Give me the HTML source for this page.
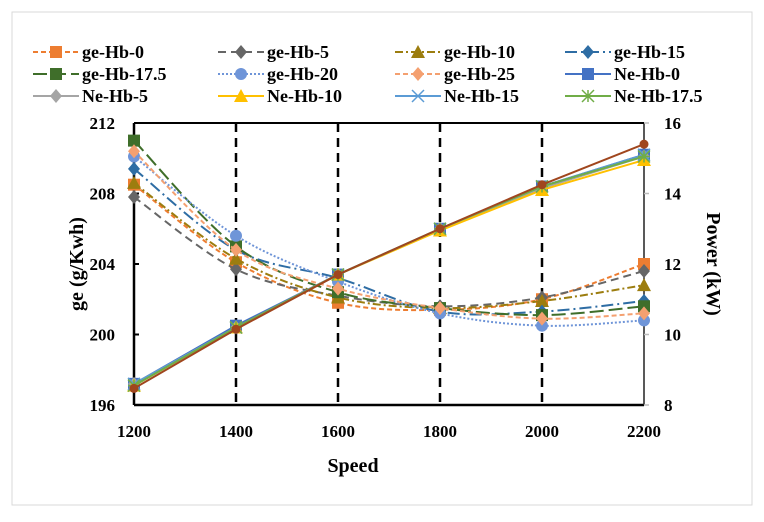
<!DOCTYPE html>
<html><head><meta charset="utf-8"><style>
body{margin:0;background:#fff;width:764px;height:517px;overflow:hidden}
svg text{font-family:"Liberation Serif",serif;font-weight:bold}
</style></head><body>
<svg id="c" width="764" height="517">
<rect x="12" y="12" width="740" height="493" fill="#fff" stroke="#d9d9d9"/>
</svg>
<script>
const speeds=[1200,1400,1600,1800,2000,2200];
const leftTicks=[196,200,204,208,212];
const rightTicks=[8,10,12,14,16];
const geHb0=[208.5,204.1,201.8,201.4,202.0,204.0];
const geHb5=[207.8,203.7,202.2,201.6,202.1,203.6];
const geHb10=[208.6,204.3,202.1,201.5,201.9,202.8];
const geHb15=[209.4,204.8,203.2,201.3,201.3,201.9];
const geHb175=[211.0,205.0,202.4,201.5,201.1,201.6];
const geHb20=[210.1,205.6,203.0,201.2,200.5,200.8];
const geHb25=[210.4,204.8,202.6,201.5,200.9,201.2];
const neHb0=[8.6,10.25,11.7,13.0,14.2,15.1];
const neHb5=[8.6,10.2,11.7,13.0,14.15,15.05];
const neHb10=[8.55,10.2,11.7,12.95,14.1,14.95];
const neHb15=[8.6,10.2,11.7,13.0,14.2,15.1];
const neHb175=[8.55,10.2,11.7,13.0,14.2,15.05];
const neHb25=[8.47,10.15,11.7,13.0,14.25,15.4];

const NS='http://www.w3.org/2000/svg',svg=document.getElementById('c');
const X0=134,X1=644,Y0=123,Y1=405;
const xs=v=>X0+(v-1200)/1000*(X1-X0);
const yl=v=>Y1-(v-196)/16*(Y1-Y0);
const yr=v=>Y1-(v-8)/8*(Y1-Y0);
function el(t,a,p){const e=document.createElementNS(NS,t);for(const k in a)e.setAttribute(k,a[k]);(p||svg).appendChild(e);return e;}
function txt(x,y,s,a){const e=el('text',Object.assign({x:x,y:y},a||{}));e.textContent=s;return e;}
speeds.forEach((s,i)=>{if(i>0&&i<5){const g=el('line',{x1:xs(s),x2:xs(s),y1:Y0,y2:Y1,stroke:'#000','stroke-width':2.5,'stroke-dasharray':'9,6'});

}});
let a=el('line',{x1:X0,x2:X0,y1:Y0,y2:Y1,stroke:'#000','stroke-width':2.5});

a=el('line',{x1:X0,x2:X1,y1:Y1,y2:Y1,stroke:'#000','stroke-width':2.5});

a=el('line',{x1:X1,x2:X1,y1:Y0,y2:Y1,stroke:'#222','stroke-width':1.5});

a=el('line',{x1:X0,x2:X1,y1:Y0,y2:Y0,stroke:'#000','stroke-width':2});

leftTicks.forEach(v=>{el('line',{x1:X0,x2:X0+5,y1:yl(v),y2:yl(v),stroke:'#000','stroke-width':2});
const t=txt(X0-19,yl(v)+6,v,{'text-anchor':'end','font-size':17});
});
rightTicks.forEach(v=>{el('line',{x1:X1,x2:X1+5,y1:yr(v),y2:yr(v),stroke:'#bbb','stroke-width':1.5});
const t=txt(X1+20,yr(v)+6,v,{'font-size':17});
});
speeds.forEach(v=>{const t=txt(xs(v),437,v,{'text-anchor':'middle','font-size':17});
});
let t=txt(353,472,'Speed',{'text-anchor':'middle','font-size':20});

t=txt(0,0,'ge (g/Kwh)',{'text-anchor':'middle','font-size':20,transform:'translate(83,264) rotate(-90)'});

t=txt(0,0,'Power  (kW)',{'text-anchor':'middle','font-size':20,transform:'translate(707,264) rotate(90)'});


function spline(p){let d='M'+p[0][0]+','+p[0][1];for(let i=0;i<p.length-1;i++){const p0=p[i-1]||p[i],p1=p[i],p2=p[i+1],p3=p[i+2]||p2;
d+=' C'+(p1[0]+(p2[0]-p0[0])/6)+','+(p1[1]+(p2[1]-p0[1])/6)+' '+(p2[0]-(p3[0]-p1[0])/6)+','+(p2[1]-(p3[1]-p1[1])/6)+' '+p2[0]+','+p2[1];}return d;}
function marker(g,m,x,y,c,s){s=s||6;
if(m=='sq')return el('rect',{x:x-s,y:y-s,width:2*s,height:2*s,fill:c},g);
if(m=='di')return el('polygon',{points:`${x},${y-s-1} ${x+s},${y} ${x},${y+s+1} ${x-s},${y}`,fill:c},g);
if(m=='tr')return el('polygon',{points:`${x},${y-s-1} ${x+s+1},${y+s} ${x-s-1},${y+s}`,fill:c},g);
if(m=='ci')return el('circle',{cx:x,cy:y,r:s,fill:c},g);
if(m=='x')return el('path',{d:`M${x-s},${y-s}L${x+s},${y+s}M${x-s},${y+s}L${x+s},${y-s}`,stroke:c,'stroke-width':1.5},g);
if(m=='st')return el('path',{d:`M${x-s},${y-s}L${x+s},${y+s}M${x-s},${y+s}L${x+s},${y-s}M${x},${y-s}L${x},${y+s}M${x-s},${y}L${x+s},${y}`,stroke:c,'stroke-width':1.5},g);}
const series=[
{n:'ge-Hb-0',d:geHb0,c:'#ed7d31',m:'sq',da:'5,3',ax:yl,sm:1},
{n:'ge-Hb-5',d:geHb5,c:'#666',m:'di',da:'8,5',ax:yl,sm:1},
{n:'ge-Hb-10',d:geHb10,c:'#9c7d0f',m:'tr',da:'8,3,2,3',ax:yl,sm:1},
{n:'ge-Hb-15',d:geHb15,c:'#2e6da4',m:'di',da:'12,4,2,4',ax:yl,sm:1},
{n:'ge-Hb-17.5',d:geHb175,c:'#3f6e2a',m:'sq',da:'14,5',ax:yl,sm:1},
{n:'ge-Hb-20',d:geHb20,c:'#6f95d8',m:'ci',da:'2,2',ax:yl,sm:1},
{n:'ge-Hb-25',d:geHb25,c:'#f4a070',m:'di',da:'5,3',ax:yl,sm:1},
{n:'Ne-Hb-0',d:neHb0,c:'#4472c4',m:'sq',ax:yr},
{n:'Ne-Hb-5',d:neHb5,c:'#a5a5a5',m:'di',ax:yr},
{n:'Ne-Hb-10',d:neHb10,c:'#ffc000',m:'tr',ax:yr},
{n:'Ne-Hb-15',d:neHb15,c:'#5b9bd5',m:'x',ax:yr},
{n:'Ne-Hb-17.5',d:neHb175,c:'#70ad47',m:'st',ax:yr},
{n:'Ne-Hb-25',d:neHb25,c:'#a0461e',m:'ci',ax:yr,sz:4.5}];
series.forEach(s=>{const g=el('g',{});


const p=s.d.map((v,i)=>[xs(speeds[i]),s.ax(v)]);
const l=el('path',{d:s.sm?spline(p):'M'+p.join('L'),fill:'none',stroke:s.c,'stroke-width':2,'stroke-dasharray':s.da||'none'},g);

p.forEach(q=>{const m=marker(g,s.m,q[0],q[1],s.c,s.sz);
});});
const cols=[33,218,395,565],rows=[52,74,96];
series.slice(0,12).forEach((s,i)=>{const x=cols[i%4],y=rows[Math.floor(i/4)];const g=el('g',{});


el('line',{x1:x,x2:x+46,y1:y,y2:y,stroke:s.c,'stroke-width':2,'stroke-dasharray':s.da||'none'},g);
marker(g,s.m,x+23,y,s.c);
txt(x+49,y+6,s.n,{'font-size':18},g);});
</script>
</body></html>
